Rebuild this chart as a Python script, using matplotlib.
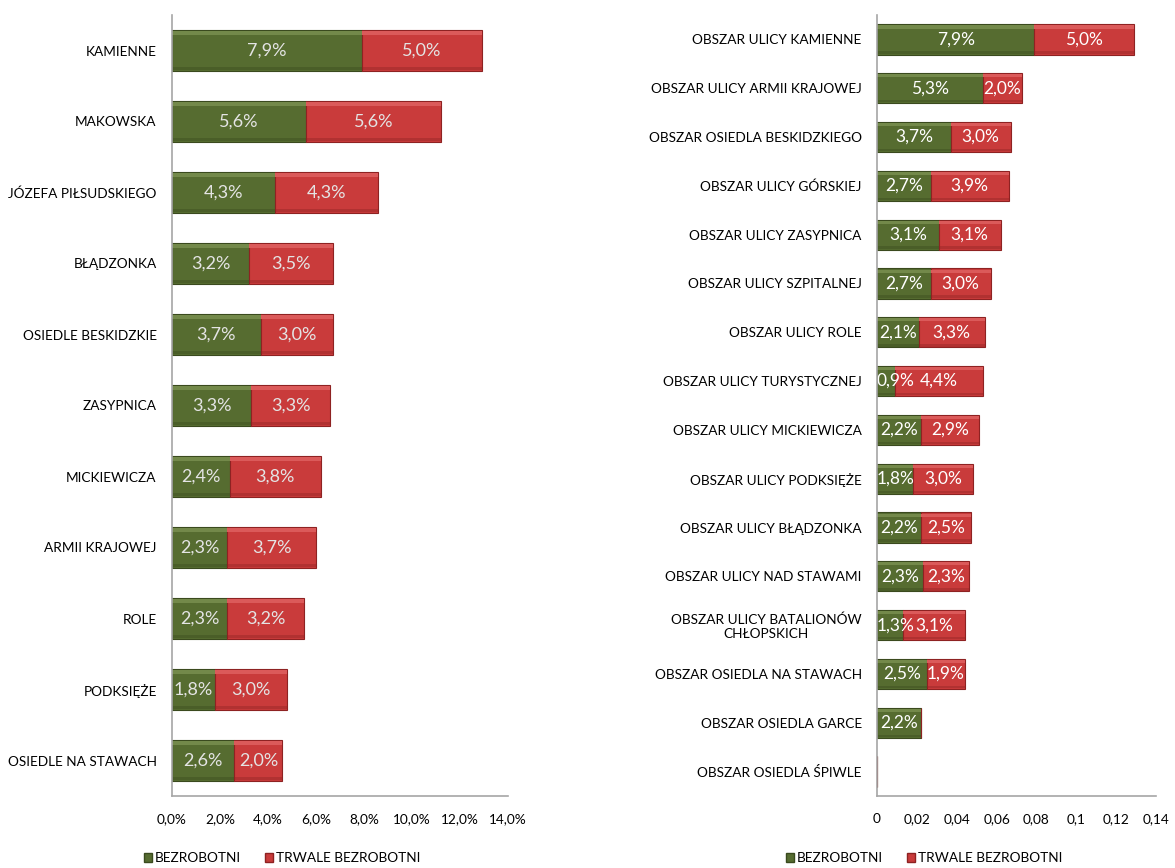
import numpy as np
import matplotlib
matplotlib.use("Agg")
from matplotlib import pyplot as plt
from matplotlib.patches import Patch

plt.rcParams['font.family'] = ['Lato', 'DejaVu Sans']

# left panel: streets (percent)
left_cats = ["KAMIENNE", "MAKOWSKA", "JÓZEFA PIŁSUDSKIEGO", "BŁĄDZONKA",
             "OSIEDLE BESKIDZKIE", "ZASYPNICA", "MICKIEWICZA", "ARMII KRAJOWEJ",
             "ROLE", "PODKSIĘŻE", "OSIEDLE NA STAWACH"]
left_bezrob = [7.9, 5.6, 4.3, 3.2, 3.7, 3.3, 2.4, 2.3, 2.3, 1.8, 2.6]
left_trwale = [5.0, 5.6, 4.3, 3.5, 3.0, 3.3, 3.8, 3.7, 3.2, 3.0, 2.0]
left_ticks = [0, 2, 4, 6, 8, 10, 12, 14]

# right panel: areas (fractions)
right_cats = ["OBSZAR ULICY KAMIENNE", "OBSZAR ULICY ARMII KRAJOWEJ",
              "OBSZAR OSIEDLA BESKIDZKIEGO", "OBSZAR ULICY GÓRSKIEJ",
              "OBSZAR ULICY ZASYPNICA", "OBSZAR ULICY SZPITALNEJ",
              "OBSZAR ULICY ROLE", "OBSZAR ULICY TURYSTYCZNEJ",
              "OBSZAR ULICY MICKIEWICZA", "OBSZAR ULICY PODKSIĘŻE",
              "OBSZAR ULICY BŁĄDZONKA", "OBSZAR ULICY NAD STAWAMI",
              "OBSZAR ULICY BATALIONÓW\nCHŁOPSKICH", "OBSZAR OSIEDLA NA STAWACH",
              "OBSZAR OSIEDLA GARCE", "OBSZAR OSIEDLA ŚPIWLE"]
right_bezrob = [0.079, 0.053, 0.037, 0.027, 0.031, 0.027, 0.021, 0.009,
                0.022, 0.018, 0.022, 0.023, 0.013, 0.025, 0.022, 0.0]
right_trwale = [0.050, 0.020, 0.030, 0.039, 0.031, 0.030, 0.033, 0.044,
                0.029, 0.030, 0.025, 0.023, 0.031, 0.019, 0.0, 0.0]
right_ticks = [0, 0.02, 0.04, 0.06, 0.08, 0.1, 0.12, 0.14]
right_ticklabels = ["0", "0,02", "0,04", "0,06", "0,08", "0,1", "0,12", "0,14"]

GREEN = "#566c30"
GREEN_HI = "#73894a"
GREEN_EDGE = "#3a4a1e"
RED = "#c93b3b"
RED_HI = "#db5a5a"
RED_EDGE = "#8e2222"
W, H = 1175, 868
FS = 9.8


def draw_panel(ax, cats, bez, trw, scale, lab_size, lab_color, height):
    y = np.arange(len(cats))
    bez = np.array(bez)
    trw = np.array(trw)
    labels = []
    for left, vals, col, hi, edge in ((0, bez, GREEN, GREEN_HI, GREEN_EDGE),
                                      (bez, trw, RED, RED_HI, RED_EDGE)):
        bars = ax.barh(y, vals, left=left, height=height, color=col,
                       edgecolor=edge, linewidth=0.8, zorder=2)
        # bevel: soft light strip on top, soft dark strip at the bottom
        ax.barh(y - height * 0.41, vals, left=left, height=height * 0.10,
                color=hi, linewidth=0, zorder=3)
        ax.barh(y + height * 0.43, vals, left=left, height=height * 0.08,
                color=edge, alpha=0.4, linewidth=0, zorder=3)
        for rect, v in zip(bars, vals):
            if v <= 0:
                continue
            cx = rect.get_x() + rect.get_width() / 2
            txt = "{:.1f}%".format(v * scale).replace(".", ",")
            t = ax.text(cx, rect.get_y() + rect.get_height() / 2, txt, ha="center",
                        va="center", fontsize=lab_size, color=lab_color, zorder=4)
            labels.append(t)
    ax.set_yticks(y)
    ax.set_yticklabels(cats, fontsize=FS)
    for lab in ax.get_yticklabels():
        lab.set_multialignment("center")
    ax.set_ylim(len(cats) - 0.5, -0.5)
    for s in ("top", "right"):
        ax.spines[s].set_visible(False)
    for s in ("left", "bottom"):
        ax.spines[s].set_color("#a6a6a6")
        ax.spines[s].set_linewidth(1.2)
        ax.spines[s].set_zorder(5)
    ax.tick_params(axis="y", length=0, pad=11)
    ax.tick_params(axis="x", length=0, pad=12, labelsize=FS)
    return labels


fig = plt.figure(figsize=(W / 100, H / 100), dpi=100)
ax1 = fig.add_axes([172 / W, (H - 796) / H, 336 / W, 781 / H])
ax2 = fig.add_axes([877 / W, (H - 796) / H, 279 / W, 781 / H])

labs1 = draw_panel(ax1, left_cats, left_bezrob, left_trwale, 1, 13, "#e4e4e4", 0.59)
ax1.set_xlim(0, 14)
ax1.set_xticks(left_ticks)
ax1.set_xticklabels(["{:.1f}%".format(t).replace(".", ",") for t in left_ticks])

labs2 = draw_panel(ax2, right_cats, right_bezrob, right_trwale, 100, 12.5, "white", 0.62)
ax2.set_xlim(0, 0.14)
ax2.set_xticks(right_ticks)
ax2.set_xticklabels(right_ticklabels)

# keep data labels inside the plot area (as the spreadsheet does)
fig.canvas.draw()
renderer = fig.canvas.get_renderer()
for ax, labs in ((ax1, labs1), (ax2, labs2)):
    x0 = ax.transData.transform((0, 0))[0]
    for t in labs:
        bb = t.get_window_extent(renderer)
        if bb.x0 < x0:
            shift = x0 - bb.x0
            px, py = ax.transData.transform(t.get_position())
            t.set_position(ax.transData.inverted().transform((px + shift, py)))

handles = [Patch(facecolor=GREEN, edgecolor=GREEN_EDGE, label="BEZROBOTNI"),
           Patch(facecolor=RED, edgecolor=RED_EDGE, label="TRWALE BEZROBOTNI")]
for cx in (282 / W, 924 / W):
    fig.legend(handles=handles, loc="center", bbox_to_anchor=(cx, 10 / H), ncol=2,
               frameon=False, fontsize=FS, handlelength=0.6, handleheight=0.6,
               handletextpad=0.2, columnspacing=1.8)

fig.savefig("out.png", dpi=100)
